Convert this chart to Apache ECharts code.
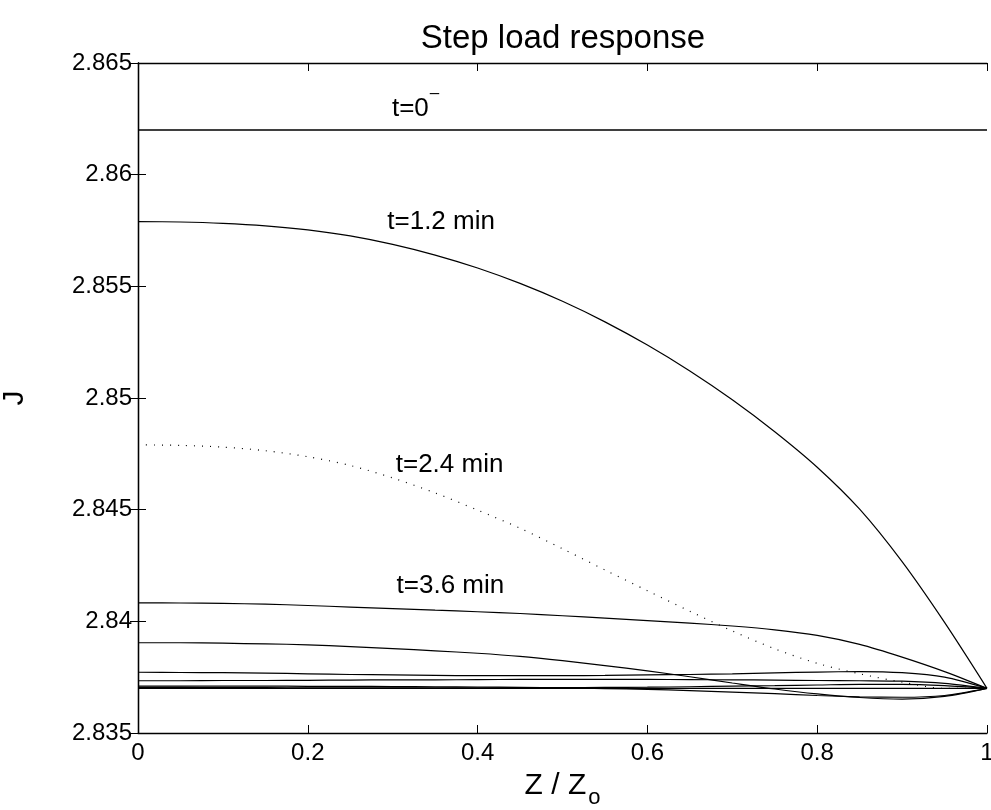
<!DOCTYPE html>
<html lang="en">
<head>
    <meta charset="UTF-8">
    <title>Step load response</title>
    <script src="https://cdn.jsdelivr.net/npm/echarts@6/dist/echarts.min.js"></script>
    <style>
        body { margin: 0; background: #fff; }
    </style>
</head>
<body>
    <div id="main" style="width: 991px;height:810px;"></div>

    <script>
        // x positions (Z / Zo) shared by all profiles
        let zGrid = [0, 0.05, 0.1, 0.15, 0.2, 0.25, 0.3, 0.35, 0.4, 0.45, 0.5,
            0.55, 0.6, 0.65, 0.7, 0.75, 0.8, 0.85, 0.9, 0.95, 1];

        // J profiles, one per time step
        let jT00 = [2.862, 2.862, 2.862, 2.862, 2.862, 2.862, 2.862, 2.862, 2.862, 2.862, 2.862,
            2.862, 2.862, 2.862, 2.862, 2.862, 2.862, 2.862, 2.862, 2.862, 2.862];
        let jT12 = [2.8579, 2.85788, 2.85782, 2.85771, 2.85753, 2.85726, 2.85688, 2.8564, 2.85582, 2.85513, 2.85433,
            2.85341, 2.85237, 2.85121, 2.84992, 2.84849, 2.8469, 2.84502, 2.84267, 2.83995, 2.837];
        let jT24 = [2.8479, 2.84788, 2.8478, 2.84764, 2.84737, 2.84698, 2.84642, 2.84575, 2.84498, 2.84417, 2.84325,
            2.8423, 2.84137, 2.84045, 2.83957, 2.83877, 2.83812, 2.83765, 2.83728, 2.837, 2.837];
        let jT36 = [2.84083, 2.84082, 2.8408, 2.84077, 2.84071, 2.84064, 2.84057, 2.8405, 2.84043, 2.84035, 2.84025,
            2.84014, 2.84003, 2.83992, 2.83979, 2.83962, 2.83937, 2.83897, 2.8384, 2.83775, 2.837];
        let jT48 = [2.83904, 2.83904, 2.83902, 2.83899, 2.83895, 2.83887, 2.83878, 2.83868, 2.83857, 2.83843, 2.83824,
            2.83802, 2.83778, 2.83752, 2.83724, 2.83697, 2.83675, 2.83659, 2.83652, 2.83664, 2.837];
        let jT60 = [2.83772, 2.83771, 2.8377, 2.83768, 2.83765, 2.83762, 2.8376, 2.83758, 2.83757, 2.83757, 2.83757,
            2.83758, 2.8376, 2.83762, 2.83765, 2.83769, 2.83773, 2.83775, 2.8377, 2.8375, 2.837];
        let jT72 = [2.83734, 2.83734, 2.83735, 2.83735, 2.83736, 2.83737, 2.83738, 2.83738, 2.83739, 2.8374, 2.8374,
            2.8374, 2.8374, 2.83739, 2.83738, 2.83737, 2.83735, 2.83734, 2.83732, 2.83722, 2.837];
        let jT84 = [2.8371, 2.8371, 2.8371, 2.8371, 2.83709, 2.83709, 2.83708, 2.83707, 2.83706, 2.83704, 2.83702,
            2.83699, 2.83695, 2.8369, 2.83683, 2.83676, 2.83668, 2.83662, 2.8366, 2.83668, 2.837];
        let jT96 = [2.83704, 2.83704, 2.83703, 2.83703, 2.83702, 2.83702, 2.83702, 2.83702, 2.83702, 2.83703, 2.83703,
            2.83704, 2.83705, 2.83707, 2.8371, 2.83712, 2.83715, 2.83718, 2.83718, 2.83712, 2.837];
        let jT108 = [2.837, 2.837, 2.837, 2.837, 2.837, 2.837, 2.837, 2.837, 2.837, 2.837, 2.837,
            2.837, 2.837, 2.837, 2.837, 2.837, 2.837, 2.837, 2.837, 2.837, 2.837];

        // tick labels
        let xTicks = ['0', '0.2', '0.4', '0.6', '0.8', '1'];
        let yTicks = ['2.835', '2.84', '2.845', '2.85', '2.855', '2.86', '2.865'];

        // in-plot annotations
        let noteText = ['{a|t=0}{s|\u2013}', 't=1.2 min', 't=2.4 min', 't=3.6 min'];
        let noteZ = [0.327, 0.357, 0.367, 0.368];
        let noteJ = [2.8629, 2.85788, 2.8470, 2.84159];

        function pairs(ys) {
            let out = [];
            for (let i = 0; i < zGrid.length; i++) {
                out.push([zGrid[i], ys[i]]);
            }
            return out;
        }

        let fontFam = '"Liberation Sans", Arial, sans-serif';
        let curves = [jT00, jT12, jT24, jT36, jT48, jT60, jT72, jT84, jT96, jT108];

        let series = curves.map(function (ys, i) {
            return {
                type: 'line',
                data: pairs(ys),
                smooth: 0.3,
                symbol: 'none',
                silent: true,
                lineStyle: {
                    color: '#000',
                    width: i === 0 ? 1.5 : 1.2,
                    type: i === 2 ? [1, 7] : 'solid'
                },
                z: 3
            };
        });

        // annotation texts as label-only scatter points
        series.push({
            type: 'scatter',
            symbolSize: 0,
            silent: true,
            itemStyle: { color: '#000', opacity: 1 },
            data: noteText.map(function (t, i) {
                return { value: [noteZ[i], noteJ[i]], name: t };
            }),
            label: {
                show: true,
                position: 'inside',
                color: '#000',
                textBorderWidth: 0,
                fontFamily: fontFam,
                fontSize: 26,
                formatter: function (p) { return p.name; },
                rich: {
                    a: { fontSize: 26, fontFamily: fontFam, color: '#000', textBorderWidth: 0, verticalAlign: 'top', lineHeight: 28 },
                    s: { fontSize: 17, fontFamily: fontFam, color: '#000', textBorderWidth: 0, verticalAlign: 'top', lineHeight: 28, padding: [-11, 0, 0, 1] }
                }
            }
        });

        let myChart = echarts.init(document.getElementById('main'));

        let axisLine = { show: true, lineStyle: { color: '#000', width: 1.3 } };
        let tickIn = { show: true, inside: true, length: 8, lineStyle: { color: '#000', width: 1 } };

        let option = {
            backgroundColor: '#fff',
            animation: false,
            title: {
                text: 'Step load response',
                left: 558,
                textAlign: 'center',
                top: 17,
                textStyle: { fontFamily: fontFam, fontSize: 33, fontWeight: 'normal', color: '#000' }
            },
            grid: { left: 138, right: 4, top: 63, bottom: 77, containLabel: false, outerBoundsMode: 'none' },
            xAxis: [{
                type: 'value',
                min: 0,
                max: 1,
                interval: 0.2,
                axisLine: axisLine,
                axisTick: tickIn,
                splitLine: { show: false },
                axisLabel: {
                    color: '#000', fontFamily: fontFam, fontSize: 24, margin: 8,
                    formatter: function (v) { return xTicks[Math.round(v / 0.2)]; }
                },
                name: '{a|Z / Z}{b|o}',
                nameLocation: 'middle',
                nameGap: 38,
                nameTextStyle: {
                    rich: {
                        a: { fontFamily: fontFam, fontSize: 30, color: '#000', verticalAlign: 'top', lineHeight: 30 },
                        b: { fontFamily: fontFam, fontSize: 22, color: '#000', verticalAlign: 'top', lineHeight: 30, padding: [16, 0, 0, 2] }
                    }
                }
            }, {
                type: 'value',
                position: 'top',
                min: 0,
                max: 1,
                interval: 0.2,
                axisLine: axisLine,
                axisTick: tickIn,
                axisLabel: { show: false },
                splitLine: { show: false }
            }],
            yAxis: [{
                type: 'value',
                min: 2.835,
                max: 2.865,
                interval: 0.005,
                axisLine: axisLine,
                axisTick: tickIn,
                splitLine: { show: false },
                axisLabel: {
                    color: '#000', fontFamily: fontFam, fontSize: 24, margin: 6,
                    formatter: function (v) { return yTicks[Math.round((v - 2.835) / 0.005)]; }
                },
                name: 'J',
                nameLocation: 'middle',
                nameGap: 108,
                nameRotate: 90,
                nameTextStyle: { fontFamily: fontFam, fontSize: 30, color: '#000' }
            }, {
                type: 'value',
                position: 'right',
                min: 2.835,
                max: 2.865,
                interval: 0.005,
                axisLine: axisLine,
                axisTick: tickIn,
                axisLabel: { show: false },
                splitLine: { show: false }
            }],
            series: series
        };

        myChart.setOption(option);
    </script>
</body>
</html>
